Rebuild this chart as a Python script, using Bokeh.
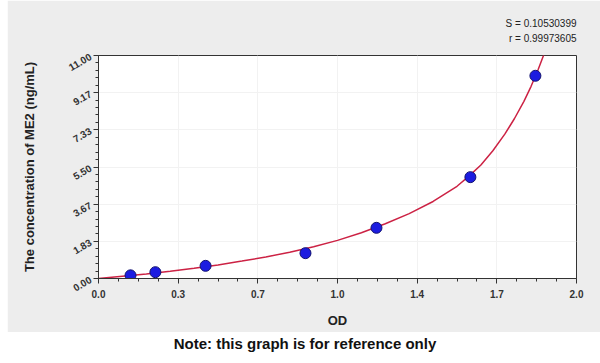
import numpy as np
from bokeh.plotting import figure
from bokeh.models import FixedTicker, Range1d, Title, Div, ColumnDataSource
from bokeh.layouts import column
from bokeh.embed import file_html
from bokeh.resources import INLINE

# Standards (OD vs concentration)
od_points = [0.134, 0.238, 0.448, 0.866, 1.163, 1.556, 1.828]
conc_points = [0.156, 0.312, 0.625, 1.25, 2.5, 5.0, 10.0]

# Fitted curve
curve_od = [0.00, 0.10, 0.20, 0.30, 0.40, 0.50, 0.60, 0.70, 0.80, 0.90, 1.00,
            1.10, 1.20, 1.30, 1.40, 1.50, 1.55, 1.60, 1.65, 1.70, 1.74, 1.78,
            1.81, 1.84, 1.87]
curve_conc = [0.00, 0.11, 0.22, 0.36, 0.51, 0.67, 0.86, 1.06, 1.30, 1.57, 1.88,
              2.26, 2.70, 3.20, 3.80, 4.55, 5.05, 5.60, 6.30, 7.12, 7.88, 8.74,
              9.48, 10.32, 11.25]

x_ticks = [0.0, 2/6, 4/6, 1.0, 8/6, 10/6, 2.0]
x_tick_labels = ["0.0", "0.3", "0.7", "1.0", "1.4", "1.7", "2.0"]
y_ticks = [0.0, 11/6, 22/6, 33/6, 44/6, 55/6, 11.0]
y_tick_labels = ["0.00", "1.83", "3.67", "5.50", "7.33", "9.17", "11.00"]

stats_s = "S = 0.10530399"
stats_r = "r = 0.99973605"
x_title = "OD"
y_title = "The concentration of ME2 (ng/mL)"
note = "Note: this graph is for reference only"

FONT = "Liberation Sans"
BG = "#ededed"

p = figure(width=593, height=332, output_backend="svg", toolbar_location=None,
           x_range=Range1d(0, 2), y_range=Range1d(0, 11),
           min_border_left=91, min_border_right=24, min_border_top=55,
           min_border_bottom=54, margin=(0, 0, 0, 7))
p.border_fill_color = BG
p.background_fill_color = "white"
p.outline_line_color = "#333333"
p.outline_line_width = 1

# ticks
x_minor = [i * (2/6) / 4 for i in range(25)]
y_minor = [i * (11/6) / 5 for i in range(31)]
p.xaxis.ticker = FixedTicker(ticks=x_ticks, minor_ticks=x_minor)
p.yaxis.ticker = FixedTicker(ticks=y_ticks, minor_ticks=y_minor)
p.xaxis.major_label_overrides = {t: l for t, l in zip(x_ticks, x_tick_labels)}
p.yaxis.major_label_overrides = {t: l for t, l in zip(y_ticks, y_tick_labels)}
p.yaxis.major_label_orientation = np.pi / 6

for ax in (p.xaxis, p.yaxis):
    ax.axis_line_color = "#333333"
    ax.major_tick_line_color = "#333333"
    ax.minor_tick_line_color = "#333333"
    ax.major_tick_out = 5
    ax.major_tick_in = 0
    ax.minor_tick_out = 3
    ax.minor_tick_in = 0
    ax.major_label_text_font = FONT
    ax.major_label_text_font_style = "bold"
    ax.major_label_text_font_size = "10px"
    ax.major_label_text_color = "#333333"
    ax.axis_label_text_font = FONT
    ax.axis_label_text_font_style = "bold"
    ax.axis_label_text_color = "#222222"

p.xaxis.axis_label = x_title
p.xaxis.axis_label_text_font_size = "13px"
p.xaxis.major_label_standoff = 6
p.xaxis.axis_label_standoff = 12
p.yaxis.axis_label = y_title
p.yaxis.axis_label_text_font_size = "13px"
p.yaxis.major_label_standoff = 3
p.yaxis.axis_label_standoff = 25

p.xgrid.ticker = FixedTicker(ticks=x_ticks)
p.ygrid.ticker = FixedTicker(ticks=y_ticks)
p.grid.grid_line_color = "#f2f2f2"

p.line(curve_od, curve_conc, line_color="#cc2244", line_width=1.5)
src = ColumnDataSource(dict(x=od_points, y=conc_points))
p.scatter("x", "y", source=src, size=11, fill_color="#1c1ce0",
          line_color="#141470", line_width=1)

# spacer between the frame and the statistics text
p.add_layout(Title(text=" ", standoff=0, text_font=FONT,
                   text_font_size="7px"), "above")
p.add_layout(Title(text=stats_r, align="right", offset=0, standoff=5,
                   text_font=FONT, text_font_size="10px",
                   text_font_style="normal", text_color="#222222"), "above")
p.add_layout(Title(text=stats_s, align="right", offset=0, standoff=0,
                   text_font=FONT, text_font_size="10px",
                   text_font_style="normal", text_color="#222222"), "above")

div = Div(text=note, width=600, height=31,
          styles={"text-align": "center", "font-family": FONT,
                  "font-weight": "bold", "font-size": "15px",
                  "color": "#111111", "background-color": "white",
                  "width": "600px", "line-height": "13px"})

layout = column(p, div, spacing=0)
open("out.html", "w").write(file_html(layout, INLINE))
